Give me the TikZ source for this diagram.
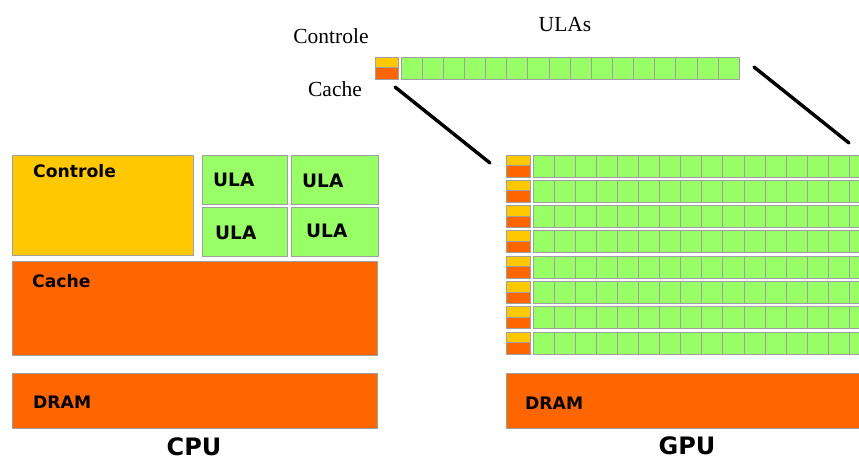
\documentclass[tikz,border=0pt]{standalone}
\usepackage{fontspec}
\setmainfont{Liberation Serif}
\newfontfamily\lblfont{DejaVu Sans}
\definecolor{ctlyellow}{HTML}{FFC800}
\definecolor{cacheorange}{HTML}{FF6600}
\definecolor{alugreen}{HTML}{99FF66}
\definecolor{edgegray}{HTML}{A0A0A0}
\tikzset{
  blockbox/.style={draw=edgegray, line width=1.2pt, inner sep=0pt, anchor=north west},
  cellbox/.style={draw=edgegray, line width=1pt, fill=alugreen},
  boldlbl/.style={inner sep=0pt, anchor=base west, font=\lblfont\bfseries\fontsize{17.2}{20}\selectfont},
  alulbl/.style={inner sep=0pt, anchor=base west, font=\lblfont\bfseries\fontsize{18.5}{20}\selectfont},
  titlelbl/.style={inner sep=0pt, text depth=0pt, anchor=base, font=\lblfont\bfseries\fontsize{24}{28}\selectfont},
  seriflbl/.style={inner sep=0pt, anchor=base, font=\fontsize{21.5}{24}\selectfont},
  zoomline/.style={line width=3.4pt, black, line cap=round}
}
\begin{document}
\begin{tikzpicture}[x=1pt, y=-1pt]
\useasboundingbox (0,0) rectangle (859,461);
\clip (0,0) rectangle (859,461);

% ---- CPU ----
\node[blockbox, fill=ctlyellow, minimum width=181pt, minimum height=100pt] (cpuctl) at (12,155) {};
\node[blockbox, fill=alugreen, minimum width=85pt, minimum height=49pt] (alua) at (202,155) {};
\node[blockbox, fill=alugreen, minimum width=87pt, minimum height=49pt] (alub) at (291,155) {};
\node[blockbox, fill=alugreen, minimum width=85pt, minimum height=49pt] (aluc) at (202,207) {};
\node[blockbox, fill=alugreen, minimum width=87pt, minimum height=49pt] (alud) at (291,207) {};
\node[blockbox, fill=cacheorange, minimum width=365pt, minimum height=94pt] (cpucache) at (12,261) {};
\node[blockbox, fill=cacheorange, minimum width=365pt, minimum height=55pt] (cpudram) at (12,373) {};

\node[boldlbl] (tctl) at (33,177) {Controle};
\node[alulbl] (ta) at (213,186) {ULA};
\node[alulbl] (tb) at (302,187) {ULA};
\node[alulbl] (tc) at (215,239) {ULA};
\node[alulbl] (td) at (306,237) {ULA};
\node[boldlbl] (tcache) at (32,287) {Cache};
\node[boldlbl] (tdram) at (33,408) {DRAM};
\node[titlelbl] (tcpu) at (194,455) {CPU};

% ---- GPU ----
\node[blockbox, fill=cacheorange, minimum width=380pt, minimum height=55pt] (gpudram) at (506,373) {};
\node[boldlbl] (tgdram) at (525,409) {DRAM};
\node[titlelbl] (tgpu) at (687,454) {GPU};

% rows of control/cache blocks followed by ALU cells
\foreach \r in {0,...,7}{
  \pgfmathsetmacro{\yt}{155+25.3*\r}
  \fill[ctlyellow] (506,\yt) rectangle (530,\yt+10.5);
  \fill[cacheorange] (506,\yt+10.5) rectangle (530,\yt+22);
  \draw[edgegray, line width=1pt] (506,\yt) rectangle (530,\yt+22) (506,\yt+10.5) -- (530,\yt+10.5);
  \foreach \c in {0,...,16}{
    \draw[cellbox] (533+21.1*\c,\yt) rectangle (533+21.1*\c+21.1,\yt+22);
  }
}

% enlarged single row
\node[seriflbl] (tctl2) at (331,43) {Controle};
\node[seriflbl] (tcache2) at (335,96) {Cache};
\node[seriflbl] (tulas) at (565,31) {ULAs};
\fill[ctlyellow] (375,57) rectangle (398,67.5);
\fill[cacheorange] (375,67.5) rectangle (398,79);
\draw[edgegray, line width=1pt] (375,57) rectangle (398,79) (375,67.5) -- (398,67.5);
\foreach \c in {0,...,15}{
  \draw[cellbox] (401+21.15*\c,57) rectangle (401+21.15*\c+21.15,79);
}

% zoom guide lines
\coordinate (la) at (395,87);
\coordinate (lb) at (490,163);
\coordinate (ra) at (754,67);
\coordinate (rb) at (849,143);
\draw[zoomline] (la) -- (lb);
\draw[zoomline] (ra) -- (rb);
\end{tikzpicture}
\end{document}
